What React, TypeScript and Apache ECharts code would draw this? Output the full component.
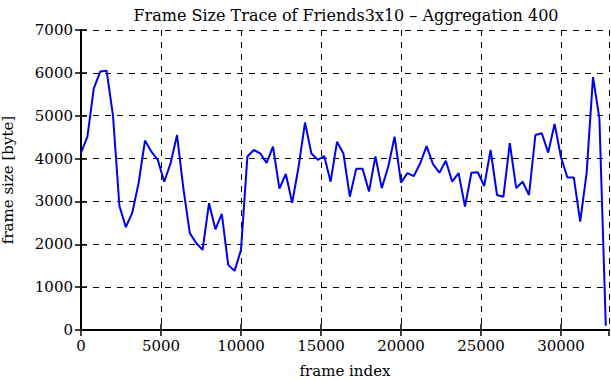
import React, { useEffect, useRef } from "react";
import * as echarts from "echarts";

const frameStep = 400;
const frameSizes = [
  4130, 4510, 5640, 6030, 6050, 5000, 2900, 2400, 2730, 3430,
  4420, 4160, 3970, 3460, 3890, 4550, 3300, 2260, 2030, 1870,
  2960, 2350, 2710, 1520, 1380, 1870, 4050, 4200, 4120, 3900,
  4280, 3300, 3640, 2970, 3810, 4840, 4120, 3970, 4060, 3460,
  4390, 4120, 3110, 3760, 3760, 3230, 4050, 3310, 3810, 4510,
  3440, 3660, 3590, 3890, 4290, 3870, 3670, 3950, 3460, 3660,
  2880, 3670, 3680, 3360, 4200, 3150, 3110, 4360, 3310, 3460,
  3150, 4550, 4590, 4140, 4810, 4030, 3560, 3560, 2530, 3660,
  5900, 4940, 100,
];
const xTicks = [0, 5000, 10000, 15000, 20000, 25000, 30000];
const yTicks = [0, 1000, 2000, 3000, 4000, 5000, 6000, 7000];
const titleText = "Frame Size Trace of Friends3x10 \u2013 Aggregation 400";
const xName = "frame index";
const yName = "frame size [byte]";

export default function App() {
  const ref = useRef<HTMLDivElement>(null);
  useEffect(() => {
    if (!ref.current) return;
    const chart = echarts.init(ref.current, undefined, { renderer: "svg" });
    const data = frameSizes.map((v, i) => [i * frameStep, v]);
    const font = "DejaVu Serif";
    const gridLine = { show: true, lineStyle: { color: "#000", type: [6, 6] as any, width: 1 } };
    chart.setOption({
      animation: false,
      backgroundColor: "#fff",
      title: {
        text: titleText,
        left: 341,
        textAlign: "center",
        top: 2,
        textStyle: { fontFamily: font, fontSize: 16, fontWeight: "normal", color: "#000" },
      },
      grid: { left: 81, right: 2, top: 30, bottom: 50, containLabel: false, outerBoundsMode: "none" },
      xAxis: [
        {
          type: "value",
          min: 0,
          max: 33000,
          interval: 5000,
          name: xName,
          nameLocation: "middle",
          nameGap: 33,
          nameTextStyle: { fontFamily: font, fontSize: 15, color: "#000" },
          axisLine: { show: true, lineStyle: { color: "#000", width: 2 } },
          axisTick: { show: true, inside: true, length: 6, lineStyle: { color: "#000", width: 1.5 } },
          axisLabel: {
            fontFamily: font,
            fontSize: 15,
            color: "#000",
            margin: 8,
            showMaxLabel: false,
            formatter: (v: number) => (xTicks.includes(v) ? String(v) : ""),
          },
          splitLine: gridLine,
        },
        {
          type: "value",
          position: "top",
          min: 0,
          max: 33000,
          interval: 5000,
          axisLine: { show: true, lineStyle: { color: "#000", width: 2 } },
          axisTick: { show: true, inside: true, length: 6, lineStyle: { color: "#000", width: 1.5 } },
          axisLabel: { show: false },
          splitLine: { show: false },
        },
      ],
      yAxis: [
        {
          type: "value",
          min: 0,
          max: 7000,
          interval: 1000,
          name: yName,
          nameLocation: "middle",
          nameGap: 66,
          nameTextStyle: { fontFamily: font, fontSize: 15, color: "#000" },
          axisLine: { show: true, lineStyle: { color: "#000", width: 2 } },
          axisTick: { show: true, inside: true, length: 6, lineStyle: { color: "#000", width: 1.5 } },
          axisLabel: {
            fontFamily: font,
            fontSize: 15,
            color: "#000",
            margin: 8,
            formatter: (v: number) => (yTicks.includes(v) ? String(v) : ""),
          },
          splitLine: gridLine,
        },
        {
          type: "value",
          position: "right",
          min: 0,
          max: 7000,
          interval: 1000,
          axisLine: { show: true, lineStyle: { color: "#000", width: 2 } },
          axisTick: { show: true, inside: true, length: 6, lineStyle: { color: "#000", width: 1.5 } },
          axisLabel: { show: false },
          splitLine: { show: false },
        },
      ],
      series: [
        {
          type: "line",
          data,
          showSymbol: false,
          symbol: "none",
          lineStyle: { color: "#0000f0", width: 2 },
          clip: true,
        },
      ],
    });
    return () => chart.dispose();
  }, []);
  return <div ref={ref} style={{ width: 611, height: 380, position: "absolute", left: 0, top: 0 }} />;
}
